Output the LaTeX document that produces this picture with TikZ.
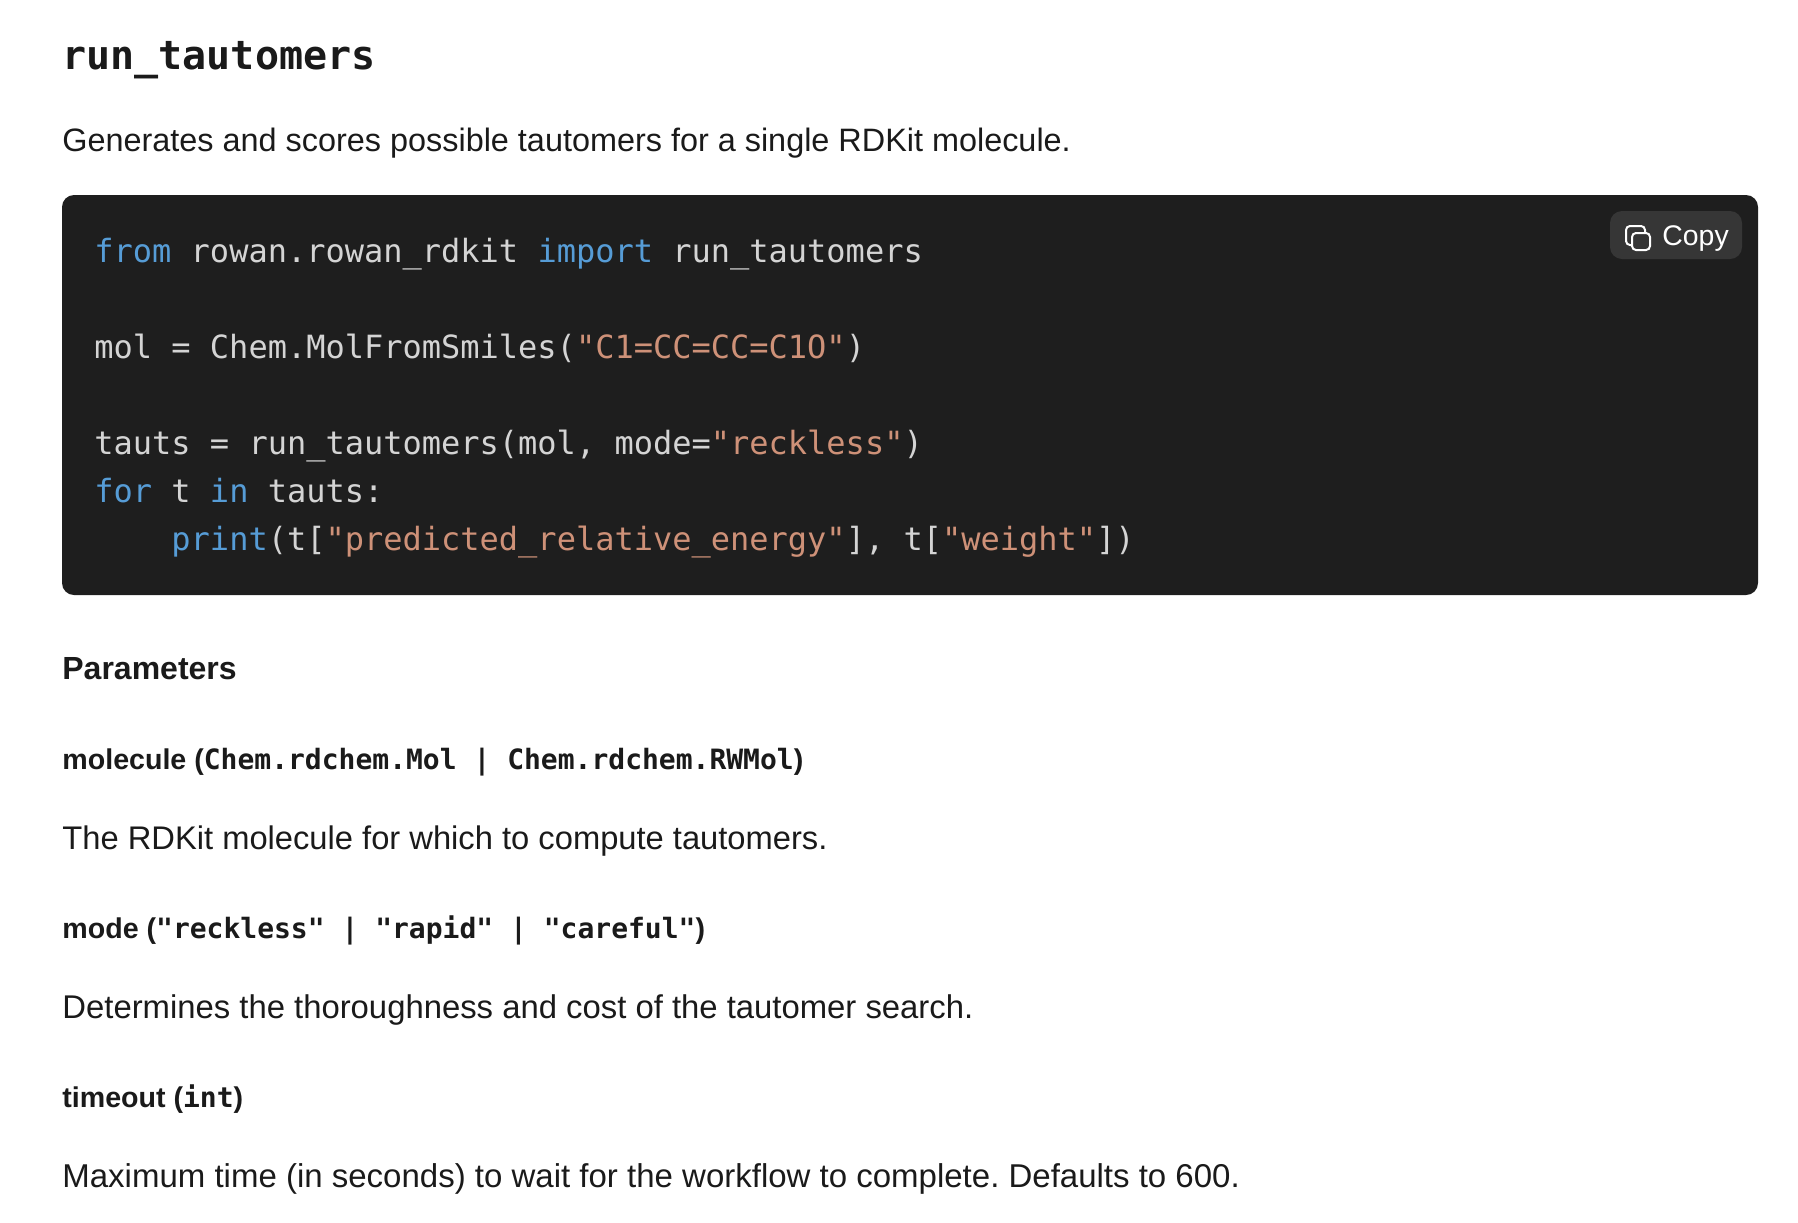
\documentclass[tikz,border=0pt]{standalone}
\usepackage{fontspec}
\setmainfont{Liberation Sans}
\setmonofont{DejaVu Sans Mono}
\usetikzlibrary{positioning}
\definecolor{codebg}{HTML}{1E1E1E}
\definecolor{copybg}{HTML}{363636}
\definecolor{codefg}{HTML}{D4D4D4}
\definecolor{kwblue}{HTML}{569CD6}
\definecolor{strorange}{HTML}{CE9178}
\definecolor{inkdark}{HTML}{1A1A1A}
\newcommand{\kw}[1]{\textcolor{kwblue}{#1}}
\newcommand{\str}[1]{\textcolor{strorange}{#1}}
\newcommand{\tm}[1]{{\fontsize{14}{18}\ttfamily #1}}

\begin{document}
\begin{tikzpicture}[x=.5pt,y=-.5pt,
      txt/.style={anchor=base west, inner sep=0pt, text=inkdark, font=\frenchspacing\fontsize{#1}{20}\selectfont},
      txt/.default=16.4,
      title/.style={txt, font=\fontsize{20}{24}\ttfamily\bfseries},
      head/.style={txt, font=\fontsize{16}{20}\selectfont\bfseries},
      param/.style={txt, font=\fontsize{14.3}{18}\selectfont\bfseries},
      code/.style={anchor=base west, inner sep=0pt, text=codefg, font=\fontsize{16}{20}\ttfamily}]
     \useasboundingbox (0,0) rectangle (1798,1222);
     \node[title] (name) at (62,69) {run\_tautomers};
     \node[txt=16.2] (intro) at (62,151) {Generates and scores possible tautomers for a single RDKit molecule.};
     % code block
     \fill[codebg, rounded corners=6pt] (62,195) rectangle (1758,595);
     \fill[copybg, rounded corners=6pt] (1610,211) rectangle (1742,259);
     \draw[white, line width=1pt, rounded corners=2pt] (1626,245) rectangle (1645,226);
     \draw[white, fill=copybg, line width=1pt, rounded corners=2pt] (1632,250) rectangle (1650,233);
     \node[anchor=base west, inner sep=0pt, text=white, font=\fontsize{14.2}{18}\selectfont] (copy) at (1662,245) {Copy};
     \node[code] (line1) at (94,262) {\kw{from} rowan.rowan\_rdkit \kw{import} run\_tautomers};
     \node[code] (line2) at (94,358) {mol = Chem.MolFromSmiles(\str{"C1=CC=CC=C1O"})};
     \node[code] (line3) at (94,454) {tauts = run\_tautomers(mol, mode=\str{"reckless"})};
     \node[code] (line4) at (94,502) {\kw{for} t \kw{in} tauts:};
     \node[code] (line5) at (94,550) {\hspace{4\fontcharwd\font`0}\kw{print}(t[\str{"predicted\_relative\_energy"}], t[\str{"weight"}])};
     % parameters
     \node[head] (params) at (62,679) {Parameters};
     \node[param] (mol) at (62,769) {molecule (\tm{Chem.rdchem.Mol | Chem.rdchem.RWMol})};
     \node[txt=16.35] (moldesc) at (62,849) {The RDKit molecule for which to compute tautomers.};
     \node[param] (mode) at (62,938) {mode (\tm{"reckless" | "rapid" | "careful"})};
     \node[txt=16.42] (modedesc) at (62,1018) {Determines the thoroughness and cost of the tautomer search.};
     \node[param] (timeout) at (62,1107) {timeout (\tm{int})};
     \node[txt=16.5] (timedesc) at (62,1187) {Maximum time (in seconds) to wait for the workflow to complete. Defaults to 600.};
\end{tikzpicture}
\end{document}
